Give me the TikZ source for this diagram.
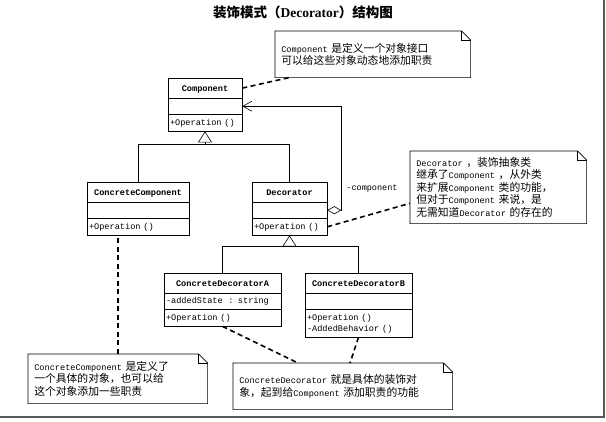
\documentclass[tikz,border=0pt]{standalone}
\usepackage{fontspec}
\setmainfont{Liberation Serif}
\setmonofont{Liberation Mono}
\newfontfamily\cjk{Noto Sans CJK SC}
\usepackage{tikz}
\usetikzlibrary{arrows.meta,shapes.multipart}
\newcommand\clsstrut{\rule[-2.5pt]{0pt}{10pt}}
\newcommand\namestrut{\rule[-3.5pt]{0pt}{13pt}}
\newcommand\clsname[1]{\namestrut\hfill\textbf{#1}\hfill\null}
\newcommand\ltn[1]{{\ttfamily\fontsize{8.6}{12}\selectfont #1}}

\begin{document}
\begin{tikzpicture}[x=1pt,y=-1pt,line width=0.6pt,
  umlclass/.style={draw,rectangle split,rectangle split parts=3,inner xsep=2pt,inner ysep=3pt,anchor=north,align=left,font=\ttfamily\fontsize{8.6}{11}\selectfont},
  umlnote/.style={anchor=north west,inner xsep=6pt,inner ysep=0pt,align=left,font=\cjk\fontsize{10.8}{12.5}\selectfont},
  inherit/.style={-{Triangle[open,length=11pt,width=14pt]}},
  aggr/.style={{Diamond[open,length=14pt,width=8pt]}-{Straight Barb[length=9pt,width=10pt]}},
  notelink/.style={line width=1.6pt,dash pattern=on 5pt off 3.5pt}]
\useasboundingbox (0,0) rectangle (606,422);
\node[font=\fontsize{13.5}{16}\selectfont\bfseries] (title) at (303,12) {{\cjk 装饰模式（}Decorator{\cjk ）结构图}};
\node[umlclass,text width=70pt] (comp) at (205,78) {\clsname{Component}\nodepart{two}\clsstrut\nodepart{three}\clsstrut+Operation ()};
\node[umlclass,text width=98pt] (cc) at (138,182) {\clsname{ConcreteComponent}\nodepart{two}\clsstrut\nodepart{three}\clsstrut+Operation ()};
\node[umlclass,text width=71pt] (dec) at (289.5,182) {\clsname{Decorator}\nodepart{two}\clsstrut\nodepart{three}\clsstrut+Operation ()};
\node[umlclass,text width=113pt] (cda) at (222.5,273) {\clsname{ConcreteDecoratorA}\nodepart{two}\clsstrut-addedState\ \ : string\nodepart{three}\clsstrut+Operation ()};
\node[umlclass,text width=103pt] (cdb) at (358.5,273) {\clsname{ConcreteDecoratorB}\nodepart{two}\clsstrut\nodepart{three}\clsstrut+Operation ()\\\clsstrut-AddedBehavior ()};
\node[umlnote,text width=183pt,minimum height=46pt] (nComp) at (275,31) {\ltn{Component} 是定义一个对象接口\\可以给这些对象动态地添加职责};
\node[umlnote,text width=164pt,minimum height=72pt] (nDec) at (410,151) {\ltn{Decorator} ，装饰抽象类\\继承了\ltn{Component} ，从外类\\来扩展\ltn{Component} 类的功能，\\但对于\ltn{Component} 来说，是\\无需知道\ltn{Decorator} 的存在的};
\node[umlnote,text width=167pt,minimum height=49pt] (nConc) at (28,354) {\ltn{ConcreteComponent} 是定义了\\一个具体的对象，也可以给\\这个对象添加一些职责};
\node[umlnote,text width=207pt,minimum height=46pt] (nCDec) at (233,363) {\ltn{ConcreteDecorator} 就是具体的装饰对\\象，起到给\ltn{Component} 添加职责的功能};
\foreach \n in {nComp,nDec,nConc,nCDec}{
  \draw (\n.north west) -- ([xshift=-9pt]\n.north east) -- ([yshift=-9pt]\n.north east) -- (\n.south east) -- (\n.south west) -- cycle;
  \draw ([xshift=-9pt]\n.north east) -- ([xshift=-9pt,yshift=-9pt]\n.north east) -- ([yshift=-9pt]\n.north east);
}
\coordinate (j1) at (205,144);
\coordinate (j2) at (289.5,246);
\draw[inherit] (cc.north) |- (j1) -- (comp.south);
\draw (dec.north) |- (j1);
\draw[inherit] (cda.north) |- (j2) -- (dec.south);
\draw (cdb.north) |- (j2);
\draw[aggr] (dec.two east) -- ++(14,0) |- (comp.two east);
\node[font=\ttfamily\fontsize{8.5}{10}\selectfont] (role) at (372,189) {-component};
\draw[notelink] (comp.one east) -- ([xshift=14pt]nComp.south west);
\draw[notelink] (dec.three east) -- ([yshift=-16pt]nDec.west);
\draw[notelink] (nConc.north) -- (nConc.north |- cc.south);
\draw[notelink] (cda.south) -- ([xshift=65pt]nCDec.north west);
\draw[notelink] (cdb.south) -- ([xshift=117pt]nCDec.north west);
\draw[line width=2.5pt,black!65] (0,417) -- (604,417) -- (604,0);
\end{tikzpicture}
\end{document}
